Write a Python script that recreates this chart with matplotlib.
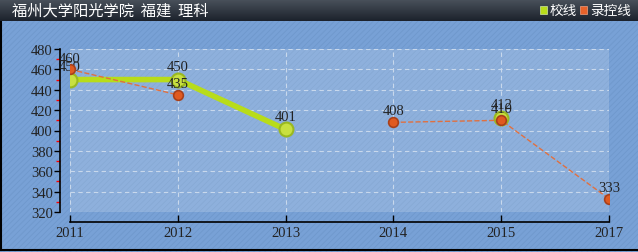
import matplotlib.pyplot as plt
import numpy as np
from matplotlib.patches import Rectangle
from matplotlib.colors import LinearSegmentedColormap

plt.rcParams['font.family'] = ['Liberation Serif', 'Noto Sans CJK SC']
plt.rcParams['hatch.color'] = '#6f98cc'
plt.rcParams['hatch.linewidth'] = 0.6

title = "福州大学阳光学院  福建  理科"
years = ['2011', '2012', '2013', '2014', '2015', '2017']
school = [450, 450, 401, np.nan, 412, np.nan]
control = [460, 435, np.nan, 408, 410, 333]
yticks = [320, 340, 360, 380, 400, 420, 440, 460, 480]

W, H = 638, 253
cjk = ['Noto Sans CJK SC', 'DejaVu Sans']
fig = plt.figure(figsize=(W / 100, H / 100), dpi=100)
fig.patch.set_facecolor('#78a1d6')

# hatched background + left/bottom border
bg = fig.add_axes([0, 0, 1, 1], zorder=-5)
bg.set_xlim(0, W); bg.set_ylim(H, 0); bg.axis('off')
bg.add_patch(Rectangle((0, 0), W, H, facecolor='#78a1d6', hatch='//////', edgecolor='#6f98cc', lw=0))
bg.plot([1, 1], [0, 251], color='black', lw=1.5)
bg.plot([0, W], [250.5, 250.5], color='black', lw=1.5)

# title bar
tb = fig.add_axes([0, 1 - 22 / H, 1, 22 / H], zorder=-4)
grad = np.linspace(0, 1, 50).reshape(-1, 1)
tb.imshow(grad, aspect='auto', cmap=LinearSegmentedColormap.from_list('tb', ['#4a525c', '#1c222c']),
          extent=[0, 1, 0, 1])
tb.set_xlim(0, 1); tb.set_ylim(0, 1); tb.axis('off')
tb.text(12 / W, 0.5, title, color='white', fontsize=11, va='center', ha='left', family=cjk)
tb.add_patch(Rectangle((540 / W, 0.32), 7 / W, 0.34, facecolor='#b8dc1a', edgecolor='#d0e8a0', lw=0.5))
tb.text(550 / W, 0.5, '校线', color='white', fontsize=9.8, va='center', ha='left', family=cjk)
tb.add_patch(Rectangle((580 / W, 0.32), 7 / W, 0.34, facecolor='#e8622a', edgecolor='#f0a080', lw=0.5))
tb.text(590 / W, 0.5, '录控线', color='white', fontsize=9.8, va='center', ha='left', family=cjk)

ax = fig.add_axes([70 / W, (H - 213) / H, 539 / W, 163 / H])
ax.set_facecolor((1, 1, 1, 0.17))
x = np.arange(len(years))
ax.plot(x, control, '--', color='#e07040', lw=1.0, marker='o', ms=7,
        mfc='#e05a20', mec='#a8401a', mew=1.2, zorder=4)
ax.plot(x, school, '-', color='#b8dc1a', lw=4, marker='o', ms=10,
        mfc='#c8e040', mec='#9ab820', mew=1.5, zorder=3)

for xi, v in zip(x, school):
    if not np.isnan(v):
        ax.annotate(str(int(v)), (xi, v), xytext=(0, 5), textcoords='offset points',
                    ha='center', va='bottom', fontsize=10.5, color='#222222')
for xi, v in zip(x, control):
    if not np.isnan(v):
        ax.annotate(str(int(v)), (xi, v), xytext=(0, 3.5), textcoords='offset points',
                    ha='center', va='bottom', fontsize=10.5, color='#222222')

ax.set_xlim(0, len(years) - 1)
ax.set_ylim(320, 480)
ax.set_xticks(x)
ax.set_xticklabels(years)
ax.set_yticks(yticks)
ax.set_yticklabels([str(t) for t in yticks])
ax.set_yticks(np.arange(330, 480, 20), minor=True)
ax.tick_params(axis='y', which='major', direction='out', length=4, width=1, color='black', pad=1,
               labelsize=10.5, labelcolor='#222222')
ax.tick_params(axis='y', which='minor', direction='out', length=3, width=1, color='red')
ax.tick_params(axis='x', which='major', direction='in', length=5, width=1, color='black', pad=3,
               labelsize=10.5, labelcolor='#222222')
ax.grid(True, color='#c8d8ec', ls=(0, (4, 3)), lw=0.8)
for s in ['top', 'right']:
    ax.spines[s].set_visible(False)
ax.spines['left'].set_position(('outward', 7.5))
ax.spines['bottom'].set_position(('outward', 7))
ax.spines['left'].set_linewidth(1.2)
ax.spines['bottom'].set_linewidth(1.2)

fig.savefig('out.png', dpi=100)
